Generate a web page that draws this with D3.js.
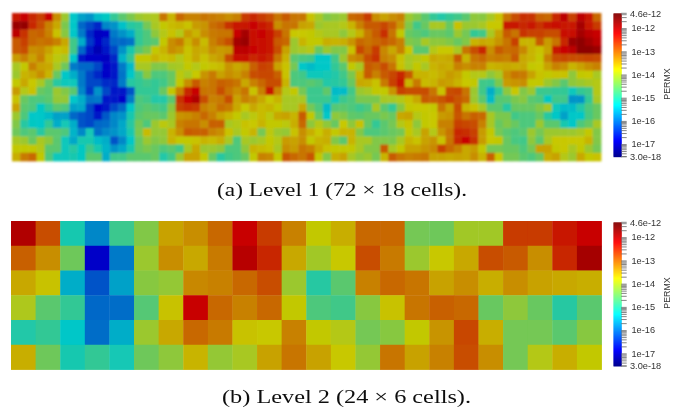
<!DOCTYPE html>
<html><head><meta charset="utf-8">
<script src="https://cdn.jsdelivr.net/npm/d3@7"></script>
<style>html,body{margin:0;padding:0;background:#fff}svg{display:block}</style>
</head><body>
<svg id="c" width="686" height="408"></svg>
<script>
// Cell values are -10*log10(PERMX).
const level1 = [
[124,122,125,127,122,133,141,153,156,157,154,152.5,149,146,143.5,141,140,139.5,131,136,130,132,132,131,131.5,132,133,132,126.5,125,126.5,128,131,129,131,131,137,140,143,142,141,130,129.5,126.5,133,134.5,133,132,141,143,146,149,150.5,149,148,146,142,142.5,140,137,131,128,125.5,126,129.5,130,125,121,127,121,123.5,130],
[118,117.5,125,128,132,135,143.5,153,160.5,163,165.5,158,157,153.5,150,149,144,140,138,136.5,136,137,134,133.5,130.5,129.5,126,123.5,124,122,123.5,125,133,131,131,134.5,135,141,140,140,139,136,132,129,129,127.5,129.5,133.5,143,148,145,140,140,145,137,141,141,140,137.5,137.5,123.5,124,125,124,126,123.5,123,123.5,124,119,124,126.5],
[121,126,130,129.5,132,137,142.5,153,159,165.5,169,168.5,159,157,155,149,147,142,139,137,139,134,136,133,131.5,131,131,122,119,123,122,124,127,131,137.5,137.5,138,139,140,140,142,139,136,131.5,129,125.5,131,138,145,146,147,145,145,146,141,144,149,148,140,134.5,129,131,126,127,127,128,128,123,123,119,121,122],
[129,127,130,131,130.5,132,135,148,155,164,168,165.5,160.5,160.5,159.5,149,147,146,138,133,131.5,136,133,136.5,132,130,128,119,118,123,123,124,129,130,141,136,138,138,135.5,136,135.5,133.5,130,131,130,129,130,132,143,144,140,142,142,143,145,143,136,135,135.5,133.5,131,127,136,136,129,134,131,125,118,117,119,121],
[129,128,133,132.5,134.5,137,136.5,148,160.5,167,170,167,163,157,151,146,143.5,138,136,133,134,137,135,135.5,133,134,133.5,121,121,122,123,124,128,134.5,141,140,139,145,141,143,143,137,127.5,130,126.5,132.5,135,132,137.5,146,146,139,137.5,137.5,140,131,128,125,133,129,130.5,130,132.5,136,137,134.5,124,122.5,121,117,117,118],
[134,132,134.5,132,136,138.5,140,153,167,168,168,169,165.5,154.5,149,138,138,136,137,136.5,139,137,135,137,135,134,128,123,123,125,124,125,131,136,146,147.5,148,153,153,148,141,133,132,128,126,132,133,137,140,139,138,135,135.5,135,129,136,131,130,132,131.5,132,129,135,136,138,132,128,127.5,128,128,127.5,128],
[140,138,132,134.5,135,140,144.5,159,160.5,160.5,163,168,167,159,154,140,140,143,143,140.5,140,138,139,138,137,136.5,133.5,135,134,129.5,127,127.5,134.5,137,144,153,154,153,153,149,146,138,140,129,130,128,131,137,140,138,140,136,135,135.5,132,133,132,132,136,135.5,135,135.5,135,138,137.5,134.5,132,133,136,134.5,133,132],
[141,136,135,133,136,145,153,155,159,163,165.5,168,167,159.5,153,148,142.5,147,147,145,138.5,140,137.5,133.5,131.5,134.5,133,134,132,128,127.5,127.5,129.5,137,147,148,152,152,151.5,150.5,148,143.5,136,129,132,129,127.5,125,129,136,136,136.5,135.5,134,135,138,139,139,142,140,133,131,131.5,134.5,137,138,137,137,142,138,137.5,140],
[138,135,137.5,140,145,150,152,152,159,163,163,165,165.5,159,150,149,148,149,148,145,138,133,129,132,131,129.5,130,131,135,132,130,128,128,136,147,147,146,147,150.5,150,149,145,135,135.5,137,131.5,127,124,136,131.5,136.5,136,134,134.5,136,137.5,138,148,148.5,143.5,134,133.5,133,138,138,141,143,146,142,141,140,139],
[134,139,137,145,146,141,143,146,158,164,157,163,167,167,162,149,149,149,145,138,132,125,122,131,131,128,131,133,131,137,132,123.5,132.5,139,138,144,148.5,148.5,145.5,154,154,148,141,140,138,138,133.5,127,128,128,128,131,137,128,127.5,131,141,148,155,149,142,137.5,143,141,148.5,148.5,149,149,152,149,148,139],
[137,145,147,147,146,141.5,141.5,153,155,159.5,159,167,167,168,159,147,148,150.5,150.5,146,126,122.5,120,128,132,131.5,128,134.5,132,133,135,137.5,136,140,140,140,148.5,148.5,148.5,152,148.5,147,143.5,143.5,143.5,140,140,139,137,135,129,129.5,128.5,127,128.5,130,141,146,154,146.5,146,143.5,142.5,146,147,152.5,148,148,157,157,149,140],
[134.5,146,147,152.5,149,146,147,156,155.5,163,168,167,163,160.5,153,147,146,147,148,142.5,127,126,126.5,132,133,130.5,131.5,135,137.5,135,136.5,136,138,140,140,135,144,147,154,146.5,146,147,148.5,147,140,146,149,142.5,138,137.5,137.5,138,131,134.5,128,136,137,140,146,146,150,145,145,145,143,140,152,154,154,150.5,147,145],
[141,147,153,153,154,156,156,160.5,162,163,167,161.5,158,157,151,146,145,145,146,141,133.5,133,132,130,132,134.5,136,138,140,138.5,136.5,138.5,135,134.5,136,129,138,145,153,142,143,145.5,146,145,145,143.5,145,135,134.5,139,138,137.5,134,133.5,128.5,131,129.5,130,140,143.5,143.5,148,147,147,145,150,153,156,153,153,147.5,145],
[143,150,152.5,153,149,155,151.5,155,162,163,160.5,160,158,155.5,150,144,147,141,138.5,140,132,131,131,133,129.5,129.5,140,139,137,137.5,136,138,138,138.5,135.5,130,142,139,142,145,137.5,142,137,145,149,146,144,139,137,142,138,137.5,132,132,127,127.5,128,132,140,145,143,145,147,147,141,146,146,151,153,147,145,140],
[144.5,147,146,150,146,146,147,154.5,158,151.5,160,158,157,155.5,151,143.5,136.5,141.5,141.5,136,133,129,129.5,129.5,132,133,137,140,138,136,144,138.5,141,141.5,137,133,135.5,137.5,135.5,138,136,136,143,147,147,146,145,144,138,140,134.5,139,133.5,131,125,125.5,127,134,138,144,146,147,146,141,144,141,141,141,141,140,138,143],
[140,141,145,140,142,146,152,155.5,151,151,154,155,162,158,153,145,141,143,142,136,138,138,137,136,136.5,135.5,140,147,140,141,140,138,139,134,134.5,133,138,136,135.5,143,146,136,140,140,143,143,143.5,140,136,137,134.5,133.5,137,131,125,122.5,126,134,137.5,138,145,147.5,148,142,146,140,137.5,137.5,137.5,137.5,136,143],
[138,138,138,139,146,146,152,150,152.5,148,151,154.5,157,155.5,151,145,143.5,145,147,146,148,140,135,141,141,142,147,147,142,136,136.5,137,140,133,134,131,132,135,137,138,138,138,140,143,143,129,140,138,134.5,134.5,133.5,132.5,127,130,132,135,134,138,144,144,145,145,147,144,134.5,134.5,138,137.5,140,138,141,144],
[135.5,131.5,130,138,147,152,152,151,152.5,146,146,155,148,148,146,146,146,145,150.5,148,141,134.5,134.5,138,145,150,148,147,145,138,132,132.5,138,128.5,130,131,128.5,138,143,135.5,134.5,140,142,141,144,136,129,131,132,131.5,131,134.5,134.5,135,134.5,135,133,136,129.5,137.5,144,144,146,147,145,135.5,134.5,139,141,135,138,137]
];
const level2 = [
[120,128,151,158,148.5,143,134.5,133,130,122,126.5,132,138,135.5,130,130,144,144.5,140.5,140.5,126.5,126.5,124,122.5],
[129.5,133,144.5,168,159,141,133,135,131.5,120.5,125,135,140.5,137.5,128,131.5,141,137.5,135,128,129,133,125,119],
[135,137,155,162,156,142.5,141.5,132.5,132,130,128,141,150,146,132,130,131,134.5,133,135.5,133,134.5,135,135.5],
[139.5,146,149,160.5,160,146.5,137,122,130,132,130,138,147,148,142.5,137,131,129.5,130,145,142,145,150,146],
[150.5,149,153,160,155,141,135,130,131.5,137,137.5,132,138,139,144,142.5,138,133.5,127.5,135.5,144,144,146,142.5],
[135.5,144.5,151,149,151.5,144.5,142,136,141.5,140,134.5,131,134.5,137.5,141.5,131,134.5,132,128,133,144,139,135.5,138]
];
const captions = ["(a) Level 1 (72 × 18 cells).", "(b) Level 2 (24 × 6 cells)."];
const barTitle = "PERMX";
const majorTicks = [1e-12,1e-13,1e-14,1e-15,1e-16,1e-17];
const tickText = ["1e-12","1e-13","1e-14","1e-15","1e-16","1e-17"];
const rangeMax = 4.6e-12, rangeMin = 3.0e-18;
const jetStops = [0,0.11,0.36,0.61,0.86,1];
const jetColors = ["#00008f","#0000ff","#00ffff","#ffff00","#ff0000","#800000"];
const cellShade = 200/255;

const svg = d3.select("#c");
const defs = svg.append("defs");
[["soft1",0.8],["soft2",0.45],["softText",0.3]].forEach(([id,s])=>{
  defs.append("filter").attr("id",id).attr("x","-5%").attr("y","-5%").attr("width","110%").attr("height","110%")
    .append("feGaussianBlur").attr("stdDeviation",s);
});

const toT = d3.scaleLog().domain([rangeMin,rangeMax]).range([0,1]).clamp(true);
const jet = d3.scaleLinear().domain(jetStops).range(jetColors).interpolate(d3.interpolateRgb);
const cellColor = p => { const c = d3.rgb(jet(toT(p))); return d3.rgb(c.r*cellShade,c.g*cellShade,c.b*cellShade).formatHex(); };

const panels = [
 {grid:level1,x0:12,x1:601,y0:13,y1:161,filter:"soft1",bar:[13.3,156.7],cap:[217,196,250],ttlY:84},
 {grid:level2,x0:11,x1:601.5,y0:221,y1:369.5,filter:"soft2",bar:[222.3,366],cap:[222,403,249],ttlY:293}
];
panels.forEach((pn,i)=>{
  const rows = pn.grid, nc = rows[0].length;
  const x = d3.scaleBand().domain(d3.range(nc)).range([pn.x0,pn.x1]);
  const y = d3.scaleBand().domain(d3.range(rows.length)).range([pn.y0,pn.y1]);
  const g = svg.append("g").attr("filter",`url(#${pn.filter})`);
  rows.forEach((row,r)=>{
    g.selectAll(null).data(row).join("rect")
      .attr("x",(d,c)=>x(c)).attr("y",y(r))
      .attr("width",x.bandwidth()+0.4).attr("height",y.bandwidth()+0.4)
      .attr("fill",d=>cellColor(Math.pow(10,-d/10)));
  });
  // colour bar
  const by = d3.scaleLog().domain([rangeMax,rangeMin]).range(pn.bar);
  const bx0 = 613.5, bx1 = 621.7;
  const bar = svg.append("g");
  const n = Math.round(pn.bar[1]-pn.bar[0]);
  bar.selectAll("rect").data(d3.range(n)).join("rect")
    .attr("x",bx0).attr("width",bx1-bx0)
    .attr("y",k=>pn.bar[0]+k*(pn.bar[1]-pn.bar[0])/n)
    .attr("height",(pn.bar[1]-pn.bar[0])/n+0.5)
    .attr("fill",k=>jet(1-(k+0.5)/n));
  // ticks
  const minors = [];
  for(let e=-18;e<=-12;e++) for(let m=2;m<=9;m++){const v=m*Math.pow(10,e); if(v<rangeMax&&v>rangeMin) minors.push(v);}
  const tg = svg.append("g").attr("stroke","#666").attr("stroke-width",0.8);
  tg.selectAll("line.m").data(minors).join("line").attr("class","m")
    .attr("x1",bx1-0.5).attr("x2",bx1+5).attr("y1",d=>by(d)).attr("y2",d=>by(d));
  tg.selectAll("line.M").data(majorTicks.concat([rangeMax,rangeMin])).join("line").attr("class","M")
    .attr("x1",bx1-0.5).attr("x2",bx1+5).attr("y1",d=>by(d)).attr("y2",d=>by(d));
  const lab = svg.append("g").attr("font-family","Liberation Sans, Arial").attr("font-size",9.2).attr("fill","#333").attr("filter","url(#softText)");
  lab.selectAll("text.t").data(majorTicks).join("text").attr("class","t")
    .attr("x",631.5).attr("y",d=>by(d)-0.5).attr("dy","0.35em").text((d,k)=>tickText[k]);
  lab.append("text").attr("x",630).attr("y",by(rangeMax)).attr("dy","0.35em").text(d3.format(".1e")(rangeMax));
  lab.append("text").attr("x",630).attr("y",by(rangeMin)).attr("dy","0.35em").text(d3.format(".1e")(rangeMin));
  lab.append("text").attr("transform",`translate(670,${pn.ttlY}) rotate(-90)`)
    .attr("text-anchor","middle").attr("font-size",8.8).text(barTitle);
  // caption
  svg.append("text").attr("x",pn.cap[0]).attr("y",pn.cap[1]).attr("font-family","Liberation Serif, serif")
    .attr("font-size",18.5).attr("fill","#111").attr("filter","url(#softText)")
    .attr("textLength",pn.cap[2]).attr("lengthAdjust","spacingAndGlyphs").text(captions[i]);
});
</script>
</body></html>
